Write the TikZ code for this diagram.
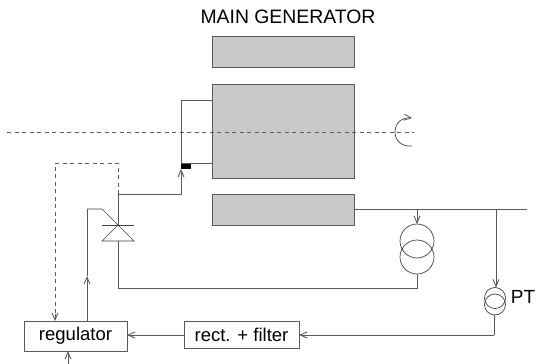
\documentclass[tikz,border=0pt]{standalone}
\usepackage{fontspec}
\setmainfont{Liberation Sans}
\usetikzlibrary{arrows.meta}
\definecolor{ln}{HTML}{5A5A5A}
\tikzset{x=1pt,y=-1pt,
 wire/.style={draw=ln,line width=0.9pt},
 arr/.style={wire,-{Straight Barb[length=7pt,width=6pt]}},
 dashline/.style={draw=ln,line width=0.9pt,dash pattern=on 4pt off 3.5pt},
 sthin/.style={draw=black!75,line width=0.7pt},
 core/.style={draw=ln,line width=0.9pt,fill=black!21,minimum width=142pt,inner sep=0pt,outer sep=0pt},
 block/.style={draw=ln,line width=0.9pt,fill=white,inner sep=0pt,outer sep=0pt,font=\fontsize{18.5}{19}\selectfont},
 coil/.style={circle,draw=black!75,line width=0.7pt,inner sep=0pt,outer sep=0pt},
 lab/.style={inner sep=0pt,font=\fontsize{19.4}{22}\selectfont},
}
\begin{document}
\begin{tikzpicture}
\useasboundingbox (0,0) rectangle (536,364);
\node[core,minimum height=31pt] (top) at (283,51.5) {};
\node[core,minimum height=94pt] (rotor) at (283,131) {};
\node[core,minimum height=31pt] (stator) at (283,209.5) {};
\node[lab] (title) at (288,17) {MAIN GENERATOR};
\coordinate (axL) at (7,132); \coordinate (axR) at (414,132);
\draw[dashline] (axL) -- (axR);
% rotation arrow
\coordinate (rotS) at (412,146); \coordinate (rotM) at (395,132); \coordinate (rotE) at (412,118);
\draw[sthin,-{Straight Barb[length=7pt,width=6pt]}] (rotS) .. controls (402,147) and (395,141) .. (rotM) .. controls (395,123) and (402,117) .. (rotE);
% slip rings
\node[fill=black,minimum width=10pt,minimum height=6pt,inner sep=0pt,outer sep=0pt] (brush) at (186,166) {};
\coordinate (loopA) at (212,100); \coordinate (loopB) at (181,100);
\coordinate (loopC) at (181,163); \coordinate (loopD) at (212,163);
\draw[wire] (loopA) -- (loopB) -- (loopC) -- (loopD);
% thyristor
\coordinate (apex) at (118,225); \coordinate (feed) at (118,194);
\coordinate (baseL) at (102,241); \coordinate (baseR) at (134,241);
\coordinate (base) at (118,241);
\draw[sthin] (baseL) -- (apex) -- (baseR) -- cycle;
\draw[sthin] (102,225) -- (134,225);
\draw[wire] (apex) -- (feed);
\draw[arr] (feed) -- (181,194) -- (brush.south west);
% regulator and filter
\node[block,minimum width=103pt,minimum height=30pt] (reg) at (75.5,336) {\raisebox{2pt}{regulator}};
\node[block,minimum width=115pt,minimum height=27pt] (filt) at (241.5,334.5) {rect. + filter};
% dashed control
\coordinate (dA) at (118,163); \coordinate (dB) at (55,163); \coordinate (dC) at (55,314);
\draw[dashline] (feed) -- (dA) -- (dB) -- (dC);
\draw[arr] (dC) -- (reg.north-|dC);
% gate
\coordinate (gA) at (102,209); \coordinate (gB) at (87,209); \coordinate (gC) at (87,276);
\draw[sthin] (apex) -- (gA) -- (gB);
\draw[wire] (gB) -- (gC);
\draw[arr,{Straight Barb[length=7pt,width=6pt]}-] (gC) -- (reg.north-|gC);
% bus
\coordinate (busEnd) at (527,209.5);
\draw[wire] (stator.east) -- (busEnd);
% excitation transformer
\node[coil,minimum size=34pt] (tA) at (417,241) {};
\node[coil,minimum size=34pt] (tB) at (417,257) {};
\coordinate (tTap) at (417,209.5); \coordinate (tC) at (417,288); \coordinate (tD) at (118,288);
\draw[arr] (tTap) -- (tA.north);
\draw[wire] (tB.south) -- (tC) -- (tD) -- (base);
% PT
\node[coil,minimum size=21pt] (pA) at (495,298) {};
\node[coil,minimum size=21pt] (pB) at (495,304.5) {};
\coordinate (pTap) at (496,209.5); \coordinate (pE) at (494,335);
\draw[arr] (pTap) -- (pA.north-|pTap);
\node[inner sep=0pt,font=\fontsize{19}{20}\selectfont] (pt) at (523,297) {PT};
\draw[wire] (pB.south-|pE) -- (pE);
\draw[arr] (pE) -- (filt.east|-pE);
\draw[arr] (filt.west|-pE) -- (reg.east|-pE);
\coordinate (inB) at (68,364);
\draw[arr] (inB) -- (reg.south-|inB);
\end{tikzpicture}
\end{document}
